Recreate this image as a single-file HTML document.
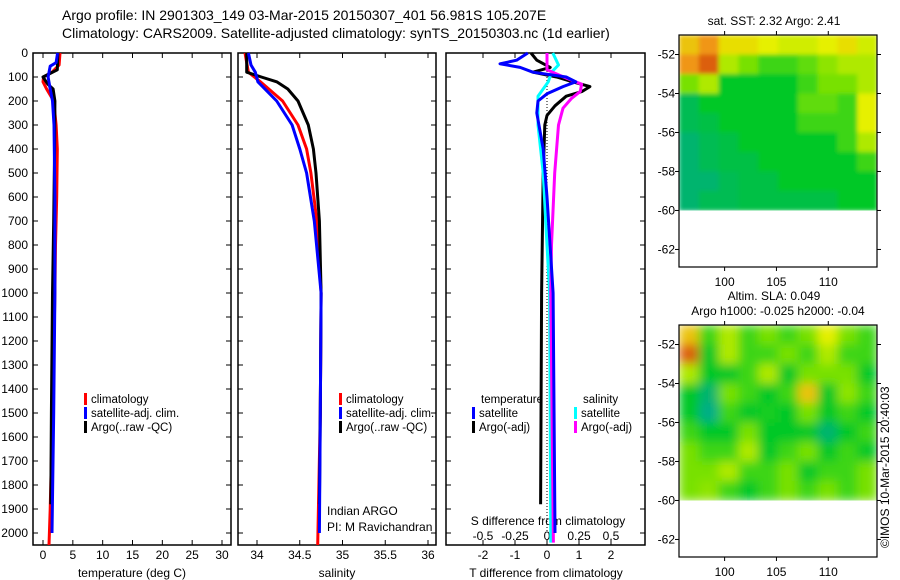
<!DOCTYPE html>
<html><head><meta charset="utf-8"><style>
html,body{margin:0;padding:0;background:#fff;}
svg{display:block;font-family:"Liberation Sans",sans-serif;}
</style></head><body>
<svg id="c" width="900" height="580" viewBox="0 0 900 580">
<text x="62" y="20" font-size="14">Argo profile: IN 2901303_149 03-Mar-2015 20150307_401 56.981S 105.207E</text>
<text x="62" y="38" font-size="14">Climatology: CARS2009. Satellite-adjusted climatology: synTS_20150303.nc (1d earlier)</text>
<g id="g"></g>
<text x="0" y="0" font-size="12" transform="translate(889,548) rotate(-90)">©IMOS 10-Mar-2015 20:40:03</text>
</svg>
<script>
// ---- data ----
const depthTicks=[0,100,200,300,400,500,600,700,800,900,1000,1100,1200,1300,1400,1500,1600,1700,1800,1900,2000];
const tempTicks=[0,5,10,15,20,25,30];
const salTicks=[34,34.5,35,35.5,36];
const tdTicks=[-2,-1,0,1,2];
const sdTicks=[-0.5,-0.25,0,0.25,0.5];
const tClimD=[0,50,80,100,120,150,200,300,400,600,800,1000,1500,1900,2050];
const tClimV=[2.85,2.7,1.5,0.1,0.0,0.6,1.8,2.2,2.4,2.3,2.1,2.0,1.6,1.2,1.0];
const tSatD=[0,40,55,100,150,200,300,600,1000,1500,2000];
const tSatV=[2.45,2.2,1.2,0.85,1.2,1.6,1.85,2.0,2.0,1.8,1.5];
const tArgoD=[0,70,85,100,130,150,200,400,700,1000,1500,1880];
const tArgoV=[2.5,2.4,1.2,0.0,0.8,1.7,2.0,1.95,1.8,1.6,1.4,1.3];
const sClimD=[0,80,120,200,300,400,500,700,1000,1500,2050];
const sClimV=[33.86,33.9,34.04,34.3,34.48,34.58,34.63,34.7,34.75,34.74,34.71];
const sSatD=[0,50,80,120,200,300,400,500,700,1000,1500,2000];
const sSatV=[33.9,33.93,33.98,34.01,34.23,34.41,34.5,34.58,34.67,34.75,34.74,34.73];
const sArgoD=[0,80,100,120,150,200,300,400,500,700,1000,1500,1880];
const sArgoV=[33.88,33.88,34.05,34.23,34.36,34.48,34.6,34.66,34.69,34.73,34.75,34.74,34.73];
const dTSatD=[0,30,45,60,80,100,120,140,170,200,250,400,600,1000,2000];
const dTSatV=[-0.6,-0.95,-1.47,-0.84,-0.44,0.6,0.9,0.5,0.0,-0.28,-0.32,-0.12,0.0,0.19,0.25];
const dTArgoD=[0,30,60,80,100,120,140,160,180,220,260,300,500,1000,1880];
const dTArgoV=[-0.5,-0.32,0.1,-0.44,0.3,0.8,1.34,1.1,0.6,0.25,0.0,-0.07,-0.12,-0.17,-0.2];
const dSSatD=[0,50,80,120,180,300,500,700,1000,2040];
const dSSatV=[0.045,0.09,0.035,0.01,-0.07,-0.07,-0.03,-0.01,0.02,0.03];
const dSArgoD=[0,70,100,130,160,190,230,300,500,800,1000,2040];
const dSArgoV=[0.0,0.0,0.13,0.27,0.26,0.19,0.125,0.09,0.06,0.035,0.03,0.05];
const lonTicks=[100,105,110];
const latTicks=[-52,-54,-56,-58,-60,-62];
const sstGrid=[
[.75,.8,.72,.72,.7,.68,.68,.7,.72,.68],
[.8,.85,.65,.6,.55,.55,.58,.62,.65,.65],
[.6,.65,.5,.5,.5,.5,.55,.6,.6,.65],
[.47,.5,.5,.5,.5,.5,.58,.58,.55,.7],
[.47,.48,.5,.5,.5,.5,.55,.55,.55,.7],
[.45,.47,.48,.5,.5,.5,.5,.5,.55,.65],
[.45,.47,.48,.48,.5,.5,.5,.5,.5,.55],
[.45,.45,.47,.48,.48,.5,.5,.5,.5,.5],
[.45,.47,.47,.48,.48,.48,.48,.48,.5,.5]];
const slaGrid=[
[.75,.55,.65,.55,.6,.55,.6,.7,.6,.55],
[.85,.5,.65,.55,.55,.6,.55,.65,.55,.55],
[.65,.5,.5,.55,.65,.5,.6,.6,.6,.5],
[.5,.45,.6,.55,.5,.55,.75,.5,.62,.55],
[.5,.42,.55,.5,.52,.5,.6,.5,.55,.5],
[.55,.5,.5,.6,.5,.5,.5,.45,.5,.55],
[.6,.55,.55,.65,.5,.55,.6,.5,.55,.5],
[.6,.6,.65,.55,.55,.6,.5,.55,.55,.6],
[.6,.62,.55,.5,.55,.6,.55,.6,.55,.6]];

const NS='http://www.w3.org/2000/svg';
const G=document.getElementById('g');
function mk(tag,attrs,parent){const e=document.createElementNS(NS,tag);for(const k in attrs)e.setAttribute(k,attrs[k]);(parent||G).appendChild(e);return e;}
const yD=d=>53+d*0.24;
const xT=v=>43+v*5.967;
const xS=v=>257+(v-34)*85.5;
const xDT=v=>547+v*32;
const xDS=v=>547+v*128;

const panels=[[33,231],[238,436],[446,645]];
panels.forEach((p,i)=>{
  const r=mk('rect',{x:p[0],y:53,width:p[1]-p[0],height:492,fill:'none',stroke:'#000','stroke-width':1.5});
  
  
  depthTicks.forEach(d=>{
    mk('line',{x1:p[0],x2:p[0]+5,y1:yD(d),y2:yD(d),stroke:'#000'});
    mk('line',{x1:p[1],x2:p[1]-5,y1:yD(d),y2:yD(d),stroke:'#000'});
  });
});
depthTicks.forEach(d=>{
  const t=mk('text',{x:28,y:yD(d)+4,'font-size':12,'text-anchor':'end'});
  t.textContent=d;
  
  
});
function xticks(vals,fx,y,lblY,name){
  vals.forEach(v=>{
    mk('line',{x1:fx(v),x2:fx(v),y1:545,y2:540,stroke:'#000'});
    mk('line',{x1:fx(v),x2:fx(v),y1:53,y2:58,stroke:'#000'});
    const t=mk('text',{x:fx(v),y:lblY,'font-size':12,'text-anchor':'middle'});
    t.textContent=v;
    
    
  });
}
xticks(tempTicks,xT,545,559,'temp-tick-label');
xticks(salTicks,xS,545,559,'salinity-tick-label');
xticks(tdTicks,xDT,545,559,'tdiff-tick-label');
sdTicks.forEach(v=>{
  const t=mk('text',{x:xDS(v),y:540,'font-size':12,'text-anchor':'middle'});
  t.textContent=v;
  
  
});
function label(x,y,s,name,anchor,fs){const t=mk('text',{x:x,y:y,'font-size':fs||12,'text-anchor':anchor||'middle'});t.textContent=s;return t;}
label(132,577,'temperature (deg C)','x-axis-title-temperature');
label(337,577,'salinity','x-axis-title-salinity');
label(546,577,'T difference from climatology','x-axis-title-tdiff');
label(548,525,'S difference from climatology','x-axis-title-sdiff');
const z=mk('line',{x1:xDT(0),x2:xDT(0),y1:yD(0),y2:yD(2000),stroke:'#000','stroke-dasharray':'1,2'});



function series(D,V,fx,color,name){
  const pts=D.map((d,i)=>fx(V[i]).toFixed(1)+','+yD(d).toFixed(1)).join(' ');
  const pl=mk('polyline',{points:pts,fill:'none',stroke:color,'stroke-width':3,'stroke-linejoin':'round'});
  
  
}
series(tClimD,tClimV,xT,'#f00','temp-climatology-line');
series(tArgoD,tArgoV,xT,'#000','temp-argo-line');
series(tSatD,tSatV,xT,'#00f','temp-satellite-line');
series(sClimD,sClimV,xS,'#f00','sal-climatology-line');
series(sArgoD,sArgoV,xS,'#000','sal-argo-line');
series(sSatD,sSatV,xS,'#00f','sal-satellite-line');
series(dTArgoD,dTArgoV,xDT,'#000','tdiff-argo-line');
series(dSSatD,dSSatV,xDS,'#0ff','sdiff-satellite-line');
series(dSArgoD,dSArgoV,xDS,'#f0f','sdiff-argo-line');
series(dTSatD,dTSatV,xDT,'#00f','tdiff-satellite-line');

function legend(x,y,color,s,name){
  const r=mk('rect',{x:x,y:y-10,width:3,height:12,fill:color});
  
  
  label(x+7,y,s,name,'start',11.5);
}
[[ '#f00','climatology'],['#00f','satellite-adj. clim.'],['#000','Argo(..raw -QC)']].forEach((e,i)=>{
  legend(84,403+i*14,e[0],e[1],'temp-legend-entry');
  legend(339,403+i*14,e[0],e[1],'sal-legend-entry');
});
label(481,403,'temperature','diff-legend-temperature-heading','start',11.5);
label(583,403,'salinity','diff-legend-salinity-heading','start',11.5);
legend(472,417,'#00f','satellite','diff-legend-t-satellite');
legend(472,431,'#000','Argo(-adj)','diff-legend-t-argo');
legend(574,417,'#0ff','satellite','diff-legend-s-satellite');
legend(574,431,'#f0f','Argo(-adj)','diff-legend-s-argo');
label(327,515,'Indian ARGO','float-owner-label','start');
label(327,531,'PI: M Ravichandran','pi-label','start');

// ---- maps ----
const stops=[[0.4,[0,170,150]],[0.45,[0,180,110]],[0.5,[0,200,40]],[0.6,[120,225,0]],[0.7,[230,240,0]],[0.8,[240,150,20]],[0.9,[200,40,0]],[1,[140,0,0]]];
function cmap(v){
  if(v<=stops[0][0])return 'rgb('+stops[0][1]+')';
  for(let i=1;i<stops.length;i++){if(v<=stops[i][0]){const a=stops[i-1],b=stops[i];const f=(v-a[0])/(b[0]-a[0]);const c=a[1].map((x,k)=>Math.round(x+(b[1][k]-x)*f));return 'rgb('+c+')';}}
  return 'rgb('+stops[stops.length-1][1]+')';
}
const LON0=95.6,LON1=114.7;
function drawMap(top,bottom,grid,title1,title2,name,blur){
  const lat0=-51.0,lat1=-62.9;
  const fy=la=>top+(lat0-la)/(lat0-lat1)*(bottom-top);
  const fx=lo=>679+(lo-LON0)/(LON1-LON0)*198;
  const g=mk('g',{});
  
  
  const defs=mk('defs',{},g);
  const f=mk('filter',{id:'bl'+name,x:'0',y:'0',width:'1',height:'1'},defs);
  mk('feGaussianBlur',{stdDeviation:blur?'5':'2',edgeMode:'duplicate'},f);
  const cp=mk('clipPath',{id:'cp'+name},defs);
  mk('rect',{x:679,y:top,width:198,height:fy(-60)-top},cp);
  const cg=mk('g',{filter:'url(#bl'+name+')','clip-path':'url(#cp'+name+')'},g);
  const nr=grid.length,nc=grid[0].length;
  const dLon=(LON1-LON0)/nc,dLat=(lat0+60)/nr;
  grid.forEach((row,r)=>row.forEach((v,c)=>{
    const x0=fx(LON0+c*dLon),x1=fx(LON0+(c+1)*dLon),y0=fy(lat0-r*dLat),y1=fy(lat0-(r+1)*dLat);
    const cell=mk('rect',{x:x0,y:y0,width:x1-x0+0.5,height:y1-y0+0.5,fill:cmap(v)},cg);
    
    
  }));
  mk('rect',{x:679,y:top,width:198,height:bottom-top,fill:'none',stroke:'#000','stroke-width':1.2},g);
  latTicks.forEach(la=>{
    mk('line',{x1:679,x2:675,y1:fy(la),y2:fy(la),stroke:'#000'},g);
    mk('line',{x1:877,x2:881,y1:fy(la),y2:fy(la),stroke:'#000'},g);
    const t=mk('text',{x:675,y:fy(la)+4,'font-size':12,'text-anchor':'end'},g);t.textContent=la;
    
    
  });
  lonTicks.forEach(lo=>{
    mk('line',{x1:fx(lo),x2:fx(lo),y1:bottom,y2:bottom+4,stroke:'#000'},g);
    mk('line',{x1:fx(lo),x2:fx(lo),y1:top,y2:top-4,stroke:'#000'},g);
    const t=mk('text',{x:fx(lo),y:bottom+19,'font-size':12,'text-anchor':'middle'},g);t.textContent=lo;
    
    
  });
  if(title1){const t=mk('text',{x:774,y:top-10-(title2?15:0),'font-size':12,'text-anchor':'middle'},g);t.textContent=title1;}
  if(title2){const t=mk('text',{x:778,y:top-10,'font-size':12,'text-anchor':'middle'},g);t.textContent=title2;}
}
drawMap(35,267,sstGrid,'sat. SST: 2.32 Argo: 2.41',null,'sst-map',false);
drawMap(325,557,slaGrid,'Altim. SLA: 0.049','Argo h1000: -0.025 h2000: -0.04','sla-map',true);
</script>
</body></html>
